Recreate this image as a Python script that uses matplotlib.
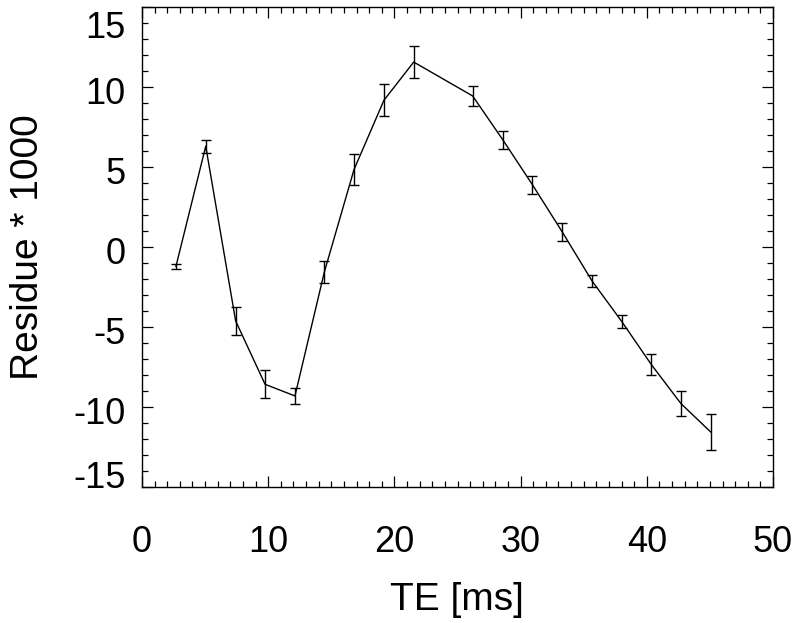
import matplotlib
matplotlib.use("Agg")
import matplotlib.pyplot as plt
import matplotlib.transforms as mtransforms
from matplotlib.ticker import MultipleLocator

plt.rcParams['font.family'] = ['Liberation Sans', 'DejaVu Sans']

te_ms = [2.69, 5.05, 7.42, 9.75, 12.12, 14.45, 16.80, 19.17, 21.53,
         26.20, 28.58, 30.93, 33.30, 35.66, 38.00, 40.36, 42.71, 45.06]
residue = [-1.21, 6.30, -4.62, -8.58, -9.31, -1.56, 4.84, 9.17, 11.56,
           9.44, 6.71, 3.90, 0.94, -2.12, -4.64, -7.35, -9.79, -11.56]
residue_err = [0.14, 0.40, 0.89, 0.88, 0.50, 0.69, 0.99, 0.99, 0.98,
               0.64, 0.57, 0.56, 0.55, 0.40, 0.42, 0.67, 0.80, 1.12]
x_ticks = [0, 10, 20, 30, 40, 50]
y_ticks = [-15, -10, -5, 0, 5, 10, 15]

W, H = 800, 623
fig = plt.figure(figsize=(W / 100, H / 100), dpi=100)
ax = fig.add_axes([142 / W, 1 - 487 / H, (773 - 142) / W, (487 - 7) / H])

ax.errorbar(te_ms, residue, yerr=residue_err, color='black', lw=1.0,
            elinewidth=1.0, capsize=3.6, capthick=1.0)

ax.set_xlim(0, 50)
ax.set_ylim(-15, 15)
ax.set_xticks(x_ticks)
ax.set_yticks(y_ticks)
ax.set_xticklabels([str(v) for v in x_ticks])
ax.set_yticklabels([str(v) for v in y_ticks])
ax.xaxis.set_minor_locator(MultipleLocator(1))
ax.yaxis.set_minor_locator(MultipleLocator(1))
ax.tick_params(which='both', direction='in', top=True, right=True,
               width=0.9, labelsize=26)
ax.tick_params(which='major', length=8)
ax.tick_params(which='minor', length=4.5)
ax.tick_params(axis='x', which='major', pad=27)
ax.tick_params(axis='y', which='major', pad=12)
for s in ax.spines.values():
    s.set_linewidth(1.0)

# pull the extreme y labels inside the axis range
for lab in ax.get_yticklabels():
    txt = lab.get_text()
    if txt == '15':
        dy = -18
    elif txt == '-15':
        dy = 12
    else:
        dy = -4
    lab.set_transform(lab.get_transform() +
                      mtransforms.ScaledTranslation(0, dy / 100, fig.dpi_scale_trans))

fig.text(457 / W, 1 - 600 / H, 'TE [ms]', ha='center', va='center', fontsize=28)
fig.text(28 / W, 1 - 247 / H, 'Residue * 1000', ha='center', va='center',
         rotation=90, fontsize=28)

fig.savefig('out.png', dpi=100)
